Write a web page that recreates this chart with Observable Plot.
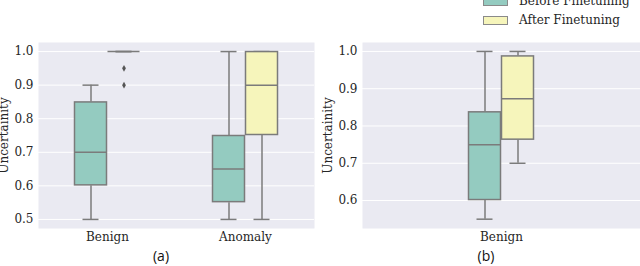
<!DOCTYPE html>
<html><head><meta charset="utf-8">
<script src="https://cdn.jsdelivr.net/npm/d3@7"></script>
<script src="https://cdn.jsdelivr.net/npm/@observablehq/plot@0.6"></script>
<style>
body{margin:0;background:#fff}
#wrap{position:relative;width:640px;height:266px;overflow:hidden;background:#fff;font-family:"DejaVu Serif",serif;color:#262626}
#wrap svg, #wrap svg text{font-family:"DejaVu Serif",serif !important;font-size:12px}
.panel{position:absolute;top:0}
.cap{position:absolute;font-family:"Open Sans",sans-serif;font-size:14px;color:#111;transform:translateX(-50%)}
.leg{position:absolute;font-size:12px;display:flex;align-items:center;white-space:nowrap}
.sw{width:25px;height:9px;border:1px solid #8a8a8a;box-sizing:border-box;margin-right:11px}
</style></head>
<body><div id="wrap"></div>
<script>
const seriesNames = ["Before Finetuning", "After Finetuning"];
const seriesColors = ["#94cbc0", "#f6f5bb"];

// Panel (a)
const aCategory = ["Benign", "Benign", "Anomaly", "Anomaly"];
const aSeries   = ["Before Finetuning", "After Finetuning", "Before Finetuning", "After Finetuning"];
const aLow    = [0.50, 1.00, 0.50, 0.50];
const aQ1     = [0.60, 1.00, 0.55, 0.75];
const aMedian = [0.70, 1.00, 0.65, 0.90];
const aQ3     = [0.85, 1.00, 0.75, 1.00];
const aHigh   = [0.90, 1.00, 1.00, 1.00];
const aOutCategory = ["Benign", "Benign"];
const aOutSeries   = ["After Finetuning", "After Finetuning"];
const aOutValue    = [0.95, 0.90];
const aTicks = [0.5, 0.6, 0.7, 0.8, 0.9, 1.0];

// Panel (b)
const bCategory = ["Benign", "Benign"];
const bSeries   = ["Before Finetuning", "After Finetuning"];
const bLow    = [0.55, 0.70];
const bQ1     = [0.60, 0.762];
const bMedian = [0.75, 0.873];
const bQ3     = [0.838, 0.988];
const bHigh   = [1.00, 1.00];
const bTicks = [0.6, 0.7, 0.8, 0.9, 1.0];

function table(cat, ser, lo, q1, med, q3, hi) {
  return cat.map((c, i) => ({cat: c, series: ser[i], lo: lo[i], q1: q1[i], med: med[i], q3: q3[i], hi: hi[i]}));
}
const dataA = table(aCategory, aSeries, aLow, aQ1, aMedian, aQ3, aHigh);
const dataB = table(bCategory, bSeries, bLow, bQ1, bMedian, bQ3, bHigh);
const outA = aOutValue.map((v, i) => ({cat: aOutCategory[i], series: aOutSeries[i], v}));

const lineC = "#7b7b7b";
const bg = "#eaeaf2";

function panel({data, outliers, cats, ticks, domain, marginLeft, marginRight, padOuter}) {
  const marks = [
    Plot.frame({fill: bg, stroke: null, facet: "super"}),
    Plot.gridY(ticks, {stroke: "white", strokeOpacity: 1, strokeWidth: 1}),
    Plot.ruleX(data, {fx: "cat", x: "series", y1: "lo", y2: "q1", stroke: lineC, strokeWidth: 1.5}),
    Plot.ruleX(data, {fx: "cat", x: "series", y1: "q3", y2: "hi", stroke: lineC, strokeWidth: 1.5}),
    Plot.tickY(data, {fx: "cat", x: "series", y: "lo", stroke: lineC, strokeWidth: 1.5, inset: 8.5}),
    Plot.tickY(data, {fx: "cat", x: "series", y: "hi", stroke: lineC, strokeWidth: 1.5, inset: 8.5}),
    Plot.barY(data, {fx: "cat", x: "series", y1: "q1", y2: "q3", fill: "series", stroke: lineC, strokeWidth: 1.5, inset: 0.5}),
    Plot.tickY(data, {fx: "cat", x: "series", y: "med", stroke: lineC, strokeWidth: 1.5, inset: 0.5})
  ];
  if (outliers) marks.push(Plot.dot(outliers, {fx: "cat", x: "series", y: "v", symbol: "diamond", r: 2, fill: "#555", stroke: null}));
  return Plot.plot({
    width: 320, height: 266,
    marginLeft, marginRight, marginTop: 42, marginBottom: 38,
    style: "font-family: 'DejaVu Serif', serif; font-size: 12px; color: #262626; background: transparent;",
    fx: {domain: cats, padding: 0, axis: "bottom", label: null, tickSize: 0, tickPadding: 4},
    x: {domain: seriesNames, paddingInner: 0, paddingOuter: padOuter, axis: null},
    y: {domain, ticks, tickFormat: ".1f", tickSize: 0, tickPadding: 5, label: "Uncertainity", labelAnchor: "center", labelArrow: "none", labelOffset: 39},
    color: {domain: seriesNames, range: seriesColors},
    marks
  });
}

const wrap = document.getElementById("wrap");
const pa = panel({data: dataA, outliers: outA, cats: ["Benign", "Anomaly"], ticks: aTicks, domain: [0.473, 1.027], marginLeft: 38, marginRight: 6, padOuter: 1.03});
const pb = panel({data: dataB, outliers: null, cats: ["Benign"], ticks: bTicks, domain: [0.525, 1.024], marginLeft: 42, marginRight: 0, padOuter: 3.09});
const da = document.createElement("div"); da.className = "panel"; da.style.left = "0px"; da.appendChild(pa); wrap.appendChild(da);
const db = document.createElement("div"); db.className = "panel"; db.style.left = "320px"; db.appendChild(pb); wrap.appendChild(db);

function cap(text, x, y) {
  const d = document.createElement("div"); d.className = "cap"; d.textContent = text;
  d.style.left = x + "px"; d.style.top = y + "px"; wrap.appendChild(d);
}
cap("(a)", 161, 246);
cap("(b)", 486, 246);

seriesNames.forEach((s, i) => {
  const d = document.createElement("div"); d.className = "leg";
  d.style.left = "483px"; d.style.top = (i * 19 - 6) + "px";
  const sw = document.createElement("div"); sw.className = "sw"; sw.style.background = seriesColors[i];
  const t = document.createElement("span"); t.textContent = s;
  d.appendChild(sw); d.appendChild(t); wrap.appendChild(d);
});
</script></body></html>
